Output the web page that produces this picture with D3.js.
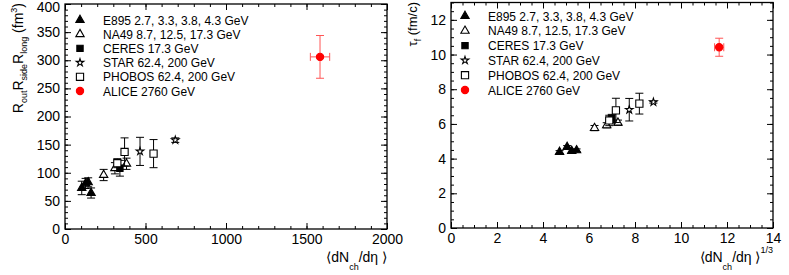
<!DOCTYPE html>
<html><head><meta charset="utf-8">
<script src="https://cdn.jsdelivr.net/npm/d3@7"></script>
<style>
html,body{margin:0;padding:0;background:#fff;}
svg{display:block;font-family:"Liberation Sans",Arial,Helvetica,sans-serif;}
</style></head>
<body>
<svg id="c" width="789" height="275"></svg>
<script>
// ---------- data ----------
const legendLabels = ["E895 2.7, 3.3, 3.8, 4.3 GeV","NA49 8.7, 12.5, 17.3 GeV","CERES 17.3 GeV","STAR 62.4, 200 GeV","PHOBOS 62.4, 200 GeV","ALICE 2760 GeV"];

// left panel: <dNch/deta> vs Rout*Rside*Rlong (fm^3)
const e895Mult   = [104, 128, 144, 162];
const e895Vol    = [73, 81, 83, 64];
const e895VolErr = [12, 9, 8, 9];
const na49Mult   = [240, 310, 382];
const na49Vol    = [96, 108, 116];
const na49VolErr = [10, 10, 10];
const ceresMult  = [341];
const ceresVol   = [108];
const ceresVolErr= [14];
const starMult   = [466, 685];
const starVol    = [138, 158];
const starVolErr = [25, 4];
const phobosMult = [325, 370, 550];
const phobosVol  = [117, 137, 134];
const phobosVolErr=[8, 25, 25];
const aliceMult  = [1584];
const aliceMultErr=[60];
const aliceVol   = [306];
const aliceVolErr= [38];

// right panel: <dNch/deta>^(1/3) vs tau_f (fm/c)
const e895Root   = [4.72, 5.05, 5.25, 5.46];
const e895Tau    = [4.38, 4.67, 4.44, 4.48];
const e895TauErr = [0.08, 0.08, 0.08, 0.08];
const na49Root   = [6.24, 6.77, 7.26];
const na49Tau    = [5.76, 5.92, 6.07];
const na49TauErr = [0.15, 0.15, 0.15];
const ceresRoot  = [6.99];
const ceresTau   = [6.3];
const ceresTauErr= [0.25];
const starRoot   = [7.75, 8.8];
const starTau    = [6.82, 7.26];
const starTauErr = [0.65, 0.06];
const phobosRoot = [6.88, 7.17, 8.19];
const phobosTau  = [6.2, 6.78, 7.17];
const phobosTauErr=[0.3, 0.7, 0.6];
const aliceRoot  = [11.66];
const aliceRootErr=[0.2];
const aliceTau   = [10.42];
const aliceTauErr= [0.52];

// ticks
const leftXTicks = [0, 500, 1000, 1500, 2000];
const leftYTicks = [0, 50, 100, 150, 200, 250, 300, 350, 400];
const rightXTicks = [0, 2, 4, 6, 8, 10, 12, 14];
const rightYTicks = [0, 2, 4, 6, 8, 10, 12];

// ---------- drawing ----------
const svg = d3.select("#c");
const styles = [
  {sym: d3.symbolTriangle, size: 30, fill: "#000", stroke: "#000"},
  {sym: d3.symbolTriangle, size: 30, fill: "#fff", stroke: "#000"},
  {sym: d3.symbolSquare,   size: 40, fill: "#000", stroke: "#000"},
  {sym: d3.symbolStar,     size: 18, fill: "#fff", stroke: "#000"},
  {sym: d3.symbolSquare,   size: 52, fill: "#fff", stroke: "#000"},
  {sym: d3.symbolCircle,   size: 42, fill: "#ff0000", stroke: "#ff0000"}
];

function zip(xs, ys, es, xes){ return xs.map((x,i)=>({x, y: ys[i], e: es ? es[i] : 0, xe: xes ? xes[i] : 0})); }

function panel(cfg){
  const g = svg.append("g");
  const x = d3.scaleLinear().domain(cfg.xDom).range(cfg.xRange);
  const y = d3.scaleLinear().domain(cfg.yDom).range(cfg.yRange);
  const [x0,x1] = cfg.xRange, [y0,y1] = cfg.yRange;

  const minorX = d3.range(cfg.xDom[0], cfg.xDom[1] + 1e-9, cfg.xMinor);
  const minorY = d3.range(cfg.yDom[0], cfg.yDom[1] + 1e-9, cfg.yMinor);

  function ax(gen, tr, vals, size, labels){
    const a = gen.tickValues(vals).tickSizeInner(size).tickSizeOuter(0).tickPadding(cfg.pad);
    a.tickFormat(labels ? d3.format("d") : "");
    const s = g.append("g").attr("transform", tr).call(a);
    s.select(".domain").remove();
    s.selectAll("line").attr("stroke","#000").attr("stroke-width",1);
    s.selectAll("text").attr("font-size",14).attr("fill","#000").attr("font-family","Liberation Sans, Arial, sans-serif");
    return s;
  }
  // bottom
  ax(d3.axisBottom(x), `translate(0,${y0})`, minorX, -3, false);
  ax(d3.axisBottom(x), `translate(0,${y0})`, cfg.xTicks, -6, true);
  // top
  ax(d3.axisTop(x), `translate(0,${y1})`, minorX, -3, false);
  ax(d3.axisTop(x), `translate(0,${y1})`, cfg.xTicks, -6, false);
  // left
  ax(d3.axisLeft(y), `translate(${x0},0)`, minorY, -3, false);
  const yl = ax(d3.axisLeft(y), `translate(${x0},0)`, cfg.yTicks, -6, true);
  // keep the topmost label inside the picture
  yl.selectAll("text").filter(d => y(d) < 8).attr("dy", "0.55em");
  // right
  ax(d3.axisRight(y), `translate(${x1},0)`, minorY, -3, false);
  ax(d3.axisRight(y), `translate(${x1},0)`, cfg.yTicks, -6, false);

  g.append("rect").attr("x",x0).attr("y",y1).attr("width",x1-x0).attr("height",y0-y1)
    .attr("fill","none").attr("stroke","#000").attr("stroke-width",1.3);

  // series
  cfg.series.forEach((pts, si)=>{
    const st = styles[si];
    const ecol = si === 5 ? "#ff5555" : "#000";
    const sg = g.append("g");
    pts.forEach(p=>{
      const cx = x(p.x), cy = y(p.y);
      if(p.e){
        const ya = y(p.y + p.e), yb = y(p.y - p.e);
        sg.append("line").attr("x1",cx).attr("x2",cx).attr("y1",ya).attr("y2",yb).attr("stroke",ecol).attr("stroke-width",1);
        [ya,yb].forEach(yy=>sg.append("line").attr("x1",cx-4).attr("x2",cx+4).attr("y1",yy).attr("y2",yy).attr("stroke",ecol).attr("stroke-width",1));
      }
      if(p.xe){
        const xa = x(p.x - p.xe), xb = x(p.x + p.xe);
        sg.append("line").attr("x1",xa).attr("x2",xb).attr("y1",cy).attr("y2",cy).attr("stroke",ecol).attr("stroke-width",1);
        [xa,xb].forEach(xx=>sg.append("line").attr("x1",xx).attr("x2",xx).attr("y1",cy-4).attr("y2",cy+4).attr("stroke",ecol).attr("stroke-width",1));
      }
    });
    sg.selectAll("path.m").data(pts).join("path").attr("class","m")
      .attr("d", d3.symbol(st.sym, st.size))
      .attr("transform", d=>`translate(${x(d.x)},${y(d.y)})`)
      .attr("fill", st.fill).attr("stroke", st.stroke).attr("stroke-width", 1.1);
  });

  // legend
  const lg = g.append("g");
  legendLabels.forEach((lab,i)=>{
    const st = styles[i];
    const yy = cfg.legY + i*cfg.legStep;
    lg.append("path").attr("d", d3.symbol(st.sym, st.size)()).attr("transform",`translate(${cfg.legX},${yy})`)
      .attr("fill",st.fill).attr("stroke",st.stroke).attr("stroke-width",1.1);
    lg.append("text").attr("x",cfg.legX+23).attr("y",yy+4.5).attr("font-size",12).attr("fill","#000").text(lab);
  });
  return {x,y,g};
}

const L = panel({
  xDom:[0,2000], xRange:[65,387], yDom:[0,400], yRange:[229,4],
  xTicks:leftXTicks, yTicks:leftYTicks, xMinor:100, yMinor:10, pad:5,
  legX:80, legY:20, legStep:14.2,
  series:[
    zip(e895Mult, e895Vol, e895VolErr),
    zip(na49Mult, na49Vol, na49VolErr),
    zip(ceresMult, ceresVol, ceresVolErr),
    zip(starMult, starVol, starVolErr),
    zip(phobosMult, phobosVol, phobosVolErr),
    zip(aliceMult, aliceVol, aliceVolErr, aliceMultErr)
  ]
});
const R = panel({
  xDom:[0,14], xRange:[451,773], yDom:[0,13], yRange:[228,2.5],
  xTicks:rightXTicks, yTicks:rightYTicks, xMinor:0.5, yMinor:0.5, pad:5,
  legX:465, legY:16, legStep:14.8,
  series:[
    zip(e895Root, e895Tau, e895TauErr),
    zip(na49Root, na49Tau, na49TauErr),
    zip(ceresRoot, ceresTau, ceresTauErr),
    zip(starRoot, starTau, starTauErr),
    zip(phobosRoot, phobosTau, phobosTauErr),
    zip(aliceRoot, aliceTau, aliceTauErr, aliceRootErr)
  ]
});

// axis titles
function xTitle(xEnd, extra){
  const t = svg.append("text").attr("x",xEnd).attr("y",262).attr("text-anchor","end").attr("font-size",14).attr("fill","#000");
  t.append("tspan").text("⟨dN");
  t.append("tspan").attr("font-size",9).attr("dy",8).text("ch");
  t.append("tspan").attr("dy",-8).text("/dη ⟩");
  if(extra) t.append("tspan").attr("font-size",9).attr("dy",-9).text(extra);
}
xTitle(387, null);
xTitle(773, "1/3");

const yl = svg.append("text").attr("transform","translate(23,3) rotate(-90)").attr("text-anchor","end").attr("font-size",14).attr("fill","#000");
yl.append("tspan").text("R");
yl.append("tspan").attr("font-size",9).attr("dy",4).text("out");
yl.append("tspan").attr("dy",-4).text("R");
yl.append("tspan").attr("font-size",9).attr("dy",4).text("side");
yl.append("tspan").attr("dy",-4).text("R");
yl.append("tspan").attr("font-size",9).attr("dy",4).text("long");
yl.append("tspan").attr("dy",-4).text(" (fm");
yl.append("tspan").attr("font-size",9).attr("dy",-6).text("3");
yl.append("tspan").attr("dy",6).text(")");

const yr = svg.append("text").attr("transform","translate(417,2) rotate(-90)").attr("text-anchor","end").attr("font-size",13).attr("fill","#000");
yr.append("tspan").text("τ");
yr.append("tspan").attr("font-size",9).attr("dy",4).text("f");
yr.append("tspan").attr("dy",-4).text("  (fm/c)");
</script>
</body></html>
